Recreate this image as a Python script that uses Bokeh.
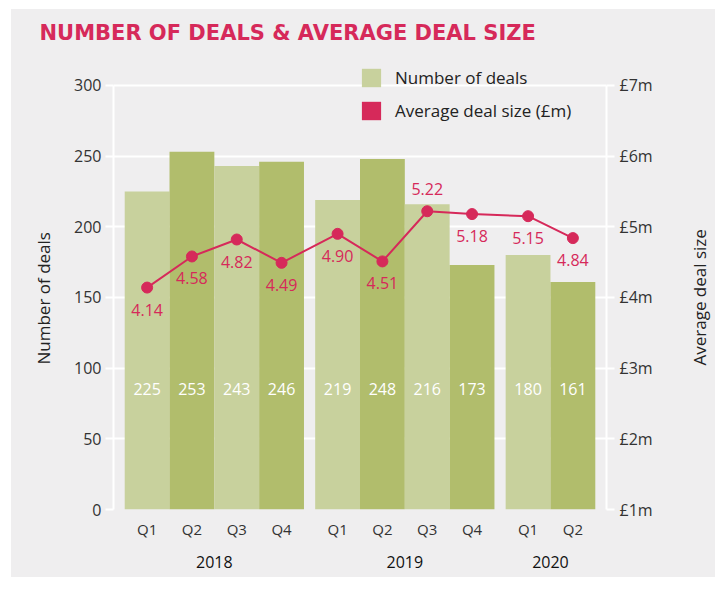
from bokeh.plotting import figure
from bokeh.layouts import row
from bokeh.models import (FactorRange, Range1d, LinearAxis, FixedTicker, PrintfTickFormatter,
                          ColumnDataSource, Legend, LegendItem, Title)
from bokeh.core.properties import value
from bokeh.embed import file_html
from bokeh.resources import INLINE

# ---- data ----
years = ["2018", "2018", "2018", "2018", "2019", "2019", "2019", "2019", "2020", "2020"]
quarters = ["Q1", "Q2", "Q3", "Q4", "Q1", "Q2", "Q3", "Q4", "Q1", "Q2"]
deals = [225, 253, 243, 246, 219, 248, 216, 173, 180, 161]
avg_size = [4.14, 4.58, 4.82, 4.49, 4.90, 4.51, 5.22, 5.18, 5.15, 4.84]
left_ticks = [0, 50, 100, 150, 200, 250, 300]
right_ticks = [1, 2, 3, 4, 5, 6, 7]

# ---- styles ----
BG = "#efeeef"
LIGHT = "#c8d19d"
DARK = "#b1bd6c"
CRIMSON = "#d6295a"
FONT = "Open Sans"
TITLE_FONT = "DejaVu Sans"

# layout (pixels)
BORDER_TOP = 43
BORDER_BOTTOM = 68
FRAME_H = 457          # frame height (extends above the 300 line to hold the legend)
AXIS_H = 425           # pixel height of the 0..300 axis span
y_end = left_ticks[-1] * FRAME_H / AXIS_H
r_end = right_ticks[0] + (right_ticks[-1] - right_ticks[0]) * FRAME_H / AXIS_H

# group labels get a leading blank line to sit lower under the quarter labels
factors = [("\n" + y, q) for y, q in zip(years, quarters)]
bar_colors = [LIGHT if q in ("Q1", "Q3") else DARK for q in quarters]
label_above = [v == max(avg_size) for v in avg_size]
label_offsets = [-22 if a else 22 for a in label_above]

src = ColumnDataSource(dict(x=factors, deals=deals, avg=avg_size, color=bar_colors,
                            deal_txt=[str(d) for d in deals],
                            avg_txt=["%.2f" % a for a in avg_size],
                            yoff=label_offsets,
                            label_y=[85] * len(deals)))

x_range = FactorRange(*factors, group_padding=0.25, factor_padding=0.0,
                      range_padding=0.25, range_padding_units="absolute")

p = figure(x_range=x_range, y_range=Range1d(0, y_end), width=674, height=568,
           output_backend="svg", toolbar_location=None,
           min_border_left=102, min_border_right=79,
           min_border_top=BORDER_TOP, min_border_bottom=BORDER_BOTTOM)
p.background_fill_color = BG
p.border_fill_color = BG
p.outline_line_color = None

p.extra_y_ranges = {"avg": Range1d(right_ticks[0], r_end)}

# title
p.title = Title(text="NUMBER OF DEALS & AVERAGE DEAL SIZE", text_color=CRIMSON,
                text_font=TITLE_FONT, text_font_size="21px", text_font_style="bold",
                align="left", offset=-74, standoff=18)

# bars
p.vbar(x="x", top="deals", width=1.0, source=src, fill_color="color", line_color=None)
p.text(x="x", y="label_y", text="deal_txt", source=src, text_color="white",
       text_align="center", text_baseline="middle", text_font=value(FONT), text_font_size="16px")

# line
p.line(x="x", y="avg", source=src, y_range_name="avg", line_color=CRIMSON, line_width=2)
p.scatter(x="x", y="avg", source=src, y_range_name="avg", size=11, fill_color=CRIMSON, line_color=CRIMSON)
p.text(x="x", y="avg", text="avg_txt", source=src, y_range_name="avg", y_offset="yoff",
       text_color=CRIMSON, text_align="center", text_baseline="middle",
       text_font=value(FONT), text_font_size="16px")

# grid
p.xgrid.grid_line_color = None
p.ygrid.grid_line_color = "white"
p.ygrid.grid_line_width = 2
p.ygrid.ticker = FixedTicker(ticks=left_ticks)

# left axis
ya = p.yaxis[0]
ya.ticker = FixedTicker(ticks=left_ticks)
ya.bounds = (left_ticks[0], left_ticks[-1])
ya.axis_line_color = "white"
ya.axis_line_width = 2
ya.major_tick_line_color = "white"
ya.major_tick_line_width = 2
ya.major_tick_out = 8
ya.major_tick_in = 0
ya.minor_tick_line_color = None
ya.major_label_text_font = FONT
ya.major_label_text_font_size = "16px"
ya.major_label_text_color = "#333333"
ya.major_label_standoff = 4

left_title = Title(text="Number of deals", align="left", offset=145, standoff=34,
                   text_font=FONT, text_font_size="17px", text_font_style="normal",
                   text_color="#222222")
p.add_layout(left_title, "left")

# right axis
ra = LinearAxis(y_range_name="avg", ticker=FixedTicker(ticks=right_ticks),
                formatter=PrintfTickFormatter(format="£%dm"),
                bounds=(right_ticks[0], right_ticks[-1]))
ra.axis_line_color = "white"
ra.axis_line_width = 2
ra.major_tick_line_color = "white"
ra.major_tick_line_width = 2
ra.major_tick_out = 8
ra.major_tick_in = 0
ra.minor_tick_line_color = None
ra.major_label_text_font = FONT
ra.major_label_text_font_size = "16px"
ra.major_label_text_color = "#333333"
ra.major_label_standoff = 5
p.add_layout(ra, "right")

# x axis
xa = p.xaxis[0]
xa.axis_line_color = None
xa.major_tick_line_color = None
xa.minor_tick_line_color = None
xa.separator_line_color = None
xa.major_label_text_font = FONT
xa.major_label_text_font_size = "15px"
xa.major_label_text_color = "#333333"
xa.major_label_standoff = 3
xa.group_text_font = FONT
xa.group_text_font_size = "16px"
xa.group_text_color = "#111111"
xa.group_text_font_style = "normal"
xa.group_text_line_height = 0.3
xa.group_label_orientation = "horizontal"

# legend with square swatches (zero-height bars give the swatch glyphs)
leg_src = ColumnDataSource(dict(x=[factors[0]], top=[0]))
r_leg1 = p.vbar(x="x", top="top", width=1.0, source=leg_src, fill_color=LIGHT, line_color=None)
r_leg2 = p.vbar(x="x", top="top", width=1.0, source=leg_src, fill_color=CRIMSON, line_color=None)
legend = Legend(items=[LegendItem(label="Number of deals", renderers=[r_leg1]),
                       LegendItem(label="Average deal size (£m)", renderers=[r_leg2])],
                location=(246, 387), orientation="vertical",
                background_fill_alpha=0, border_line_alpha=0, padding=0, margin=0,
                spacing=10, glyph_width=24, glyph_height=23, label_height=23,
                label_standoff=12, label_text_font=FONT, label_text_font_size="17px",
                label_text_color="#222222")
p.add_layout(legend)

# narrow strip on the right carrying the right-hand axis title (reads bottom-to-top)
p2 = figure(width=30, height=568, output_backend="svg", toolbar_location=None,
            x_axis_type=None, y_axis_type=None,
            min_border_left=0, min_border_right=0,
            min_border_top=BORDER_TOP, min_border_bottom=BORDER_BOTTOM)
p2.background_fill_color = BG
p2.border_fill_color = BG
p2.outline_line_color = None
p2.add_layout(Title(text="Average deal size", align="left", offset=144, standoff=0,
                    text_font=FONT, text_font_size="17px", text_font_style="normal",
                    text_color="#222222"), "left")

layout = row(p, p2, spacing=0, margin=(9, 0, 0, 11))
layout.background = BG
open("out.html", "w").write(file_html(layout, INLINE))
